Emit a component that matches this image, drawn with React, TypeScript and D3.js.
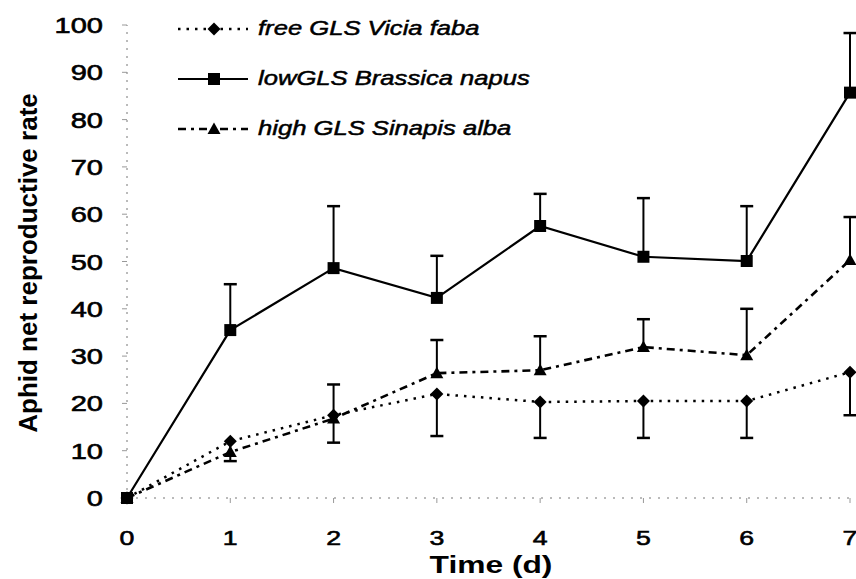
import React from "react";
import * as d3 from "d3";

const days = [0, 1, 2, 3, 4, 5, 6, 7];
const yTicks = [0, 10, 20, 30, 40, 50, 60, 70, 80, 90, 100];

// free GLS Vicia faba (error bars drawn downward)
const freeMean = [0, 12.0, 17.5, 22.0, 20.3, 20.5, 20.5, 26.6];
const freeSE = [0, 4.2, 5.8, 8.9, 7.6, 7.8, 7.8, 9.1];
// low GLS Brassica napus (error bars upward)
const lowMean = [0, 35.5, 48.6, 42.3, 57.5, 51.0, 50.1, 85.7];
const lowSE = [0, 9.7, 13.1, 8.9, 6.8, 12.4, 11.6, 12.6];
// high GLS Sinapis alba (error bars upward)
const highMean = [0, 9.7, 16.8, 26.4, 27.0, 31.9, 30.2, 50.3];
const highSE = [0, 0, 7.2, 7.0, 7.2, 5.9, 9.8, 9.1];

const legendLabels = ["free GLS Vicia faba", "lowGLS Brassica napus", "high GLS Sinapis alba"];

const width = 856;
const height = 579;
const font = "'Liberation Sans', Arial, sans-serif";

const x = d3.scaleLinear().domain([0, 7]).range([127, 850]);
const y = d3.scaleLinear().domain([0, 100]).range([498, 25]);

const line = d3
  .line<number>()
  .x((d, i) => x(days[i]))
  .y((d) => y(d));

type Marker = "square" | "diamond" | "triangle";

const markerPath = (type: Marker, cx: number, cy: number) => {
  if (type === "square") return `M${cx - 6},${cy - 6}h12v12h-12z`;
  if (type === "diamond") return `M${cx},${cy - 6.5}L${cx + 6.5},${cy}L${cx},${cy + 6.5}L${cx - 6.5},${cy}z`;
  return `M${cx},${cy - 6.5}L${cx + 6.5},${cy + 5}L${cx - 6.5},${cy + 5}z`;
};

const series = [
  { name: legendLabels[0], mean: freeMean, se: freeSE, dir: -1, dash: "2.5,6", marker: "diamond" as Marker, w: 2.5 },
  { name: legendLabels[1], mean: lowMean, se: lowSE, dir: 1, dash: "none", marker: "square" as Marker, w: 2.2 },
  { name: legendLabels[2], mean: highMean, se: highSE, dir: 1, dash: "8,5,3,5", marker: "triangle" as Marker, w: 2.6 },
];

const App = () => {
  return (
    <svg
      width={width}
      height={height}
      style={{ position: "absolute", left: 0, top: 0, background: "#fff" }}
    >
      {/* axes: faint broken lines as in the scan */}
      <line x1={x(0)} x2={x(0)} y1={y(0)} y2={y(100)} stroke="#777" strokeWidth={1} strokeDasharray="2,6" />
      <line x1={x(0)} x2={x(7)} y1={y(0)} y2={y(0)} stroke="#777" strokeWidth={1} strokeDasharray="2,7" />
      {yTicks.map((t) => (
        <g key={t}>
          <line x1={x(0) - 5} x2={x(0)} y1={y(t)} y2={y(t)} stroke="#999" strokeWidth={1} />
          <text
            transform={`translate(103, ${y(t) + 8}) scale(1.32,1)`}
            textAnchor="end"
            fontFamily={font}
            fontSize={22}
            fill="#000"
            stroke="#000"
            strokeWidth={0.6}
          >
            {t}
          </text>
        </g>
      ))}
      {days.map((d) => (
        <g key={d}>
          <line x1={x(d)} x2={x(d)} y1={y(0)} y2={y(0) + 5} stroke="#999" strokeWidth={1} />
          <text
            transform={`translate(${x(d)}, 545) scale(1.27,1)`}
            textAnchor="middle"
            fontFamily={font}
            fontSize={21}
            fill="#000"
            stroke="#000"
            strokeWidth={0.6}
          >
            {d}
          </text>
        </g>
      ))}
      <text
        transform="translate(491, 573) scale(1.38,1)"
        textAnchor="middle"
        fontFamily={font}
        fontSize={23}
        fontWeight="bold"
      >
        Time (d)
      </text>
      <text
        transform="translate(37, 263) rotate(-90)"
        textAnchor="middle"
        fontFamily={font}
        fontSize={26}
        fontWeight="bold"
      >
        Aphid net reproductive rate
      </text>

      {/* error bars */}
      {series.map((s) =>
        s.mean.map((m, i) =>
          s.se[i] > 0 ? (
            <g key={s.name + i}>
              <line
                x1={x(days[i])}
                x2={x(days[i])}
                y1={y(m)}
                y2={y(m + s.dir * s.se[i])}
                stroke="#000"
                strokeWidth={2}
              />
              <line
                x1={x(days[i]) - 6.5}
                x2={x(days[i]) + 6.5}
                y1={y(m + s.dir * s.se[i])}
                y2={y(m + s.dir * s.se[i])}
                stroke="#000"
                strokeWidth={2.5}
              />
            </g>
          ) : null
        )
      )}

      {/* lines and markers */}
      {series.map((s) => (
        <g key={s.name}>
          <path d={line(s.mean) || ""} fill="none" stroke="#000" strokeWidth={s.w} strokeDasharray={s.dash} />
          {s.mean.map((m, i) => (
            <path key={i} d={markerPath(s.marker, x(days[i]), y(m))} fill="#000" />
          ))}
        </g>
      ))}

      {/* legend */}
      {series.map((s, i) => {
        const ly = 29 + i * 50;
        return (
          <g key={"lg" + i}>
            <line x1={178} x2={248} y1={ly} y2={ly} stroke="#000" strokeWidth={s.w} strokeDasharray={s.dash} />
            <path d={markerPath(s.marker, 214, ly)} fill="#000" />
            <text
              transform={`translate(258, ${ly + 6}) scale(1.22,1)`}
              fontFamily={font}
              fontSize={21}
              fontStyle="italic"
              stroke="#000"
              strokeWidth={0.5}
            >
              {s.name}
            </text>
          </g>
        );
      })}
    </svg>
  );
};

export default App;
